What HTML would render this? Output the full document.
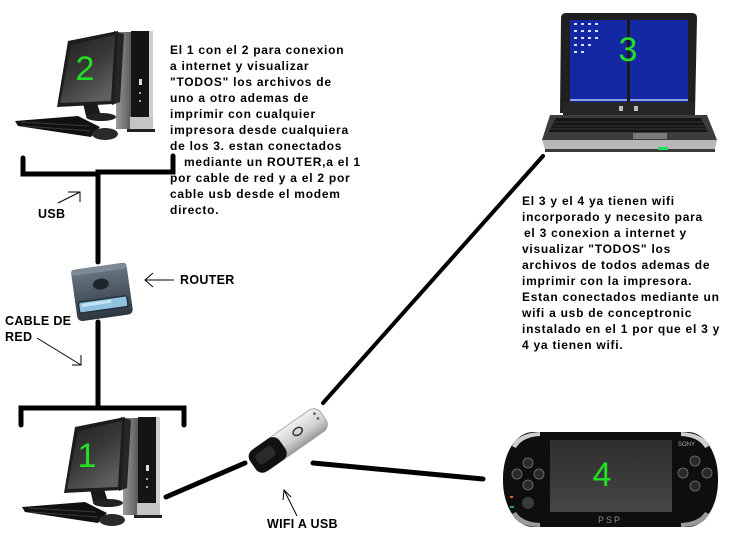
<!DOCTYPE html>
<html><head><meta charset="utf-8">
<style>
html,body{margin:0;padding:0;background:#fff;}
svg{display:block;}
.p{font-family:"Liberation Sans",Arial,sans-serif;font-weight:bold;font-size:12px;letter-spacing:0.75px;fill:#000;}
.l{font-family:"Liberation Sans",Arial,sans-serif;font-weight:bold;font-size:12.5px;letter-spacing:0.3px;fill:#000;}
.n{font-family:"Liberation Sans",Arial,sans-serif;font-size:34px;fill:#22e022;}
</style></head>
<body>
<svg width="742" height="551" viewBox="0 0 742 551" xmlns="http://www.w3.org/2000/svg">
<defs>
<linearGradient id="scr" x1="0" y1="0" x2="0.6" y2="1">
<stop offset="0" stop-color="#202020"/><stop offset="0.55" stop-color="#383838"/><stop offset="1" stop-color="#5e5e5e"/>
</linearGradient>
<linearGradient id="silver" x1="0" y1="0" x2="0" y2="1">
<stop offset="0" stop-color="#f0f0f0"/><stop offset="0.6" stop-color="#cfcfcf"/><stop offset="1" stop-color="#9a9a9a"/>
</linearGradient>
<linearGradient id="tside" x1="0" y1="0" x2="1" y2="0">
<stop offset="0" stop-color="#9a9a9a"/><stop offset="1" stop-color="#5a5a5a"/>
</linearGradient>
<linearGradient id="rt" x1="0" y1="0" x2="0" y2="1">
<stop offset="0" stop-color="#6d7a86"/><stop offset="1" stop-color="#2c363e"/>
</linearGradient>
<linearGradient id="psps" x1="0" y1="0" x2="0" y2="1">
<stop offset="0" stop-color="#2e2e2e"/><stop offset="1" stop-color="#454545"/>
</linearGradient>
<g id="pc">
 <polygon points="22,507 85,502 107,513 98,523 25,512" fill="#111"/>
 <line x1="28" y1="508" x2="96" y2="512" stroke="#3a3a3a" stroke-width="1"/>
 <line x1="30" y1="512" x2="98" y2="517" stroke="#3a3a3a" stroke-width="1"/>
 <rect x="123" y="418" width="15" height="97" fill="url(#tside)"/>
 <rect x="138" y="417" width="18" height="87" fill="#141414"/>
 <rect x="156" y="417" width="4" height="98" fill="#cfcfcf"/>
 <rect x="137" y="503" width="23" height="12" fill="#c4c4c4"/>
 <rect x="146" y="465" width="3" height="6" fill="#ddd"/>
 <rect x="146" y="478" width="2" height="2" fill="#aaa"/>
 <rect x="146" y="486" width="2" height="2" fill="#aaa"/>
 <rect x="134" y="515" width="28" height="3" fill="#222"/>
 <polygon points="90,489 104,489 108,502 93,502" fill="#1a1a1a"/>
 <ellipse cx="108" cy="503" rx="15" ry="4" fill="#222"/>
 <polygon points="121,417 131,420 127,488 119,491" fill="#262626"/>
 <polygon points="75,427 125,417 121,490 64,493" fill="#1c1c1c"/>
 <polygon points="78,431 122,421 118,487 67,489" fill="url(#scr)"/>
 <ellipse cx="112" cy="520" rx="13" ry="6" fill="#2a2a2a"/>
</g>
</defs>

<!-- computers -->
<use href="#pc" transform="translate(-7,-386)"/>
<use href="#pc"/>
<text class="n" x="85" y="80" text-anchor="middle">2</text>
<text class="n" x="87" y="467" text-anchor="middle">1</text>

<!-- wiring -->
<g stroke="#000" stroke-width="5" fill="none" stroke-linecap="round">
 <polyline points="23,158 23,174 98,174 98,172 173,172 173,156"/>
 <line x1="98" y1="172" x2="98" y2="262"/>
 <line x1="98" y1="322" x2="98" y2="408"/>
 <polyline points="21,425 21,408 184,408 184,425"/>
 <line x1="166" y1="497" x2="245" y2="463"/>
 <line x1="313" y1="463" x2="483" y2="479"/>
 <line x1="323" y1="403" x2="543" y2="156" stroke-width="4"/>
</g>

<!-- thin arrows -->
<g stroke="#000" stroke-width="1" fill="none">
 <line x1="58" y1="203" x2="80" y2="192"/>
 <polyline points="68,192 80,192 80,202"/>
 <line x1="145" y1="280" x2="174" y2="280"/>
 <polyline points="153,273 145,280 153,287"/>
 <line x1="37" y1="338" x2="81" y2="365"/>
 <polyline points="81,355 81,365 72,365"/>
 <line x1="297" y1="516" x2="284" y2="490"/>
 <polyline points="283,500 284,490 291,497"/>
</g>

<!-- router -->
<g transform="translate(102,292) rotate(-8)">
 <rect x="-28" y="-26" width="56" height="52" rx="5" fill="url(#rt)"/>
 <rect x="-28" y="-26" width="56" height="6" rx="3" fill="#7d8994"/>
 <ellipse cx="0" cy="-8" rx="8" ry="5.5" fill="#1e252b"/>
 <rect x="-25" y="7" width="49" height="11" rx="2" fill="#8fc2de" stroke="#22303a" stroke-width="1.5"/>
 <rect x="-22" y="9" width="30" height="3" fill="#c8e4f2"/>
</g>

<!-- laptop -->
<g>
 <path d="M566,13 L692,13 Q697,13 697,18 L695,113 L560,113 L561,18 Q561,13 566,13 Z" fill="#1f1f1f"/>
 <rect x="570" y="20" width="118" height="82" fill="#1428a4"/>
 <rect x="627" y="20" width="3" height="82" fill="#1a1a1a"/>
 <g fill="#d8e0ff">
  <rect x="574" y="23" width="3" height="2"/><rect x="581" y="23" width="3" height="2"/><rect x="588" y="23" width="3" height="2"/><rect x="595" y="23" width="3" height="2"/>
  <rect x="574" y="30" width="3" height="2"/><rect x="581" y="30" width="3" height="2"/><rect x="588" y="30" width="3" height="2"/><rect x="595" y="30" width="3" height="2"/>
  <rect x="574" y="37" width="3" height="2"/><rect x="581" y="37" width="3" height="2"/><rect x="588" y="37" width="3" height="2"/><rect x="595" y="37" width="3" height="2"/>
  <rect x="574" y="44" width="3" height="2"/><rect x="581" y="44" width="3" height="2"/><rect x="588" y="44" width="3" height="2"/>
  <rect x="574" y="51" width="3" height="2"/><rect x="581" y="51" width="3" height="2"/>
 </g>
 <rect x="570" y="99" width="57" height="2" fill="#8aa0e0"/>
 <rect x="630" y="99" width="58" height="2" fill="#8aa0e0"/>
 <rect x="563" y="102" width="132" height="14" fill="#262626"/>
 <rect x="619" y="106" width="4" height="5" fill="#bbb"/>
 <rect x="634" y="106" width="4" height="5" fill="#bbb"/>
 <polygon points="550,115 707,115 717,140 542,140" fill="#3c3c3c"/>
 <polygon points="556,118 701,118 708,132 549,132" fill="#151515"/>
 <g stroke="#444" stroke-width="0.8">
  <line x1="555" y1="122" x2="703" y2="122"/><line x1="553" y1="126" x2="705" y2="126"/><line x1="551" y1="129" x2="707" y2="129"/>
 </g>
 <rect x="633" y="133" width="34" height="6" fill="#7a7a7a"/>
 <polygon points="542,140 717,140 715,149 545,149" fill="#b8b8b8"/>
 <rect x="545" y="149" width="170" height="3" fill="#3a3a3a"/>
 <rect x="658" y="147" width="10" height="3" fill="#22dd66"/>
</g>
<text class="n" x="628" y="61" text-anchor="middle">3</text>

<!-- dongle -->
<g transform="translate(289,440) rotate(-35)">
 <rect x="-42" y="-13" width="84" height="26" rx="9" fill="url(#silver)" stroke="#9a9a9a" stroke-width="0.8"/>
 <rect x="-44" y="-13" width="36" height="26" rx="8" fill="#111"/>
 <rect x="-38" y="-7" width="20" height="12" rx="4" fill="#2a2a2a"/>
 <ellipse cx="12" cy="-2" rx="5" ry="3.5" fill="none" stroke="#333" stroke-width="1.5"/>
 <circle cx="36" cy="-7" r="1.3" fill="#555"/><circle cx="36" cy="-1" r="1.3" fill="#555"/>
</g>

<!-- PSP -->
<g>
 <rect x="503" y="432" width="215" height="95" rx="30" ry="46" fill="#0e0e0e"/>
 <path d="M512,446 Q518,433 540,432 L540,436 Q522,437 516,448 Z" fill="#cfcfcf"/>
 <path d="M709,446 Q703,433 681,432 L681,436 Q699,437 705,448 Z" fill="#cfcfcf"/>
 <path d="M512,514 Q518,527 540,527 L540,523 Q522,522 516,512 Z" fill="#9a9a9a"/>
 <path d="M709,514 Q703,527 681,527 L681,523 Q699,522 705,512 Z" fill="#9a9a9a"/>
 <rect x="550" y="440" width="122" height="72" fill="url(#psps)"/>
 <g fill="#2a2a2a" stroke="#777" stroke-width="0.8">
  <circle cx="528" cy="463" r="5"/><circle cx="517" cy="474" r="5"/><circle cx="539" cy="474" r="5"/><circle cx="528" cy="485" r="5"/>
  <circle cx="695" cy="461" r="5"/><circle cx="683" cy="473" r="5"/><circle cx="707" cy="473" r="5"/><circle cx="695" cy="486" r="5"/>
 </g>
 <circle cx="528" cy="503" r="6" fill="#3a3a3a"/>
 <rect x="510" y="496" width="3" height="2" fill="#e06020"/>
 <rect x="510" y="506" width="4" height="2" fill="#22aa55"/>
 <text x="678" y="446" font-family="Liberation Sans,sans-serif" font-size="6" fill="#aaa">SONY</text>
 <text x="598" y="523" font-family="Liberation Sans,sans-serif" font-size="9" letter-spacing="2" fill="#888">PSP</text>
</g>
<text class="n" x="602" y="486" text-anchor="middle">4</text>

<!-- labels -->
<text class="l" x="38" y="218">USB</text>
<text class="l" x="180" y="284">ROUTER</text>
<text class="l" x="5" y="325">CABLE DE</text>
<text class="l" x="5" y="341">RED</text>
<text class="l" x="267" y="528">WIFI A USB</text>

<!-- top paragraph -->
<g class="p">
<text x="170" y="54">El 1 con el 2 para conexion</text>
<text x="170" y="70">a internet y visualizar</text>
<text x="170" y="86">"TODOS" los archivos de</text>
<text x="170" y="102">uno a otro ademas de</text>
<text x="170" y="118">imprimir con cualquier</text>
<text x="170" y="134">impresora desde cualquiera</text>
<text x="170" y="150">de los 3. estan conectados</text>
<text x="184" y="166">mediante un ROUTER,a el 1</text>
<text x="170" y="182">por cable de red y a el 2 por</text>
<text x="170" y="198">cable usb desde el modem</text>
<text x="170" y="214">directo.</text>
</g>

<!-- right paragraph -->
<g class="p">
<text x="522" y="205">El 3 y el 4 ya tienen wifi</text>
<text x="522" y="221">incorporado y necesito para</text>
<text x="524" y="237">el 3 conexion a internet y</text>
<text x="522" y="253">visualizar "TODOS" los</text>
<text x="522" y="269">archivos de todos ademas de</text>
<text x="522" y="285">imprimir con la impresora.</text>
<text x="522" y="301">Estan conectados mediante un</text>
<text x="522" y="317">wifi a usb de conceptronic</text>
<text x="522" y="333">instalado en el 1 por que el 3 y</text>
<text x="522" y="349">4 ya tienen wifi.</text>
</g>
</svg>
</body></html>
